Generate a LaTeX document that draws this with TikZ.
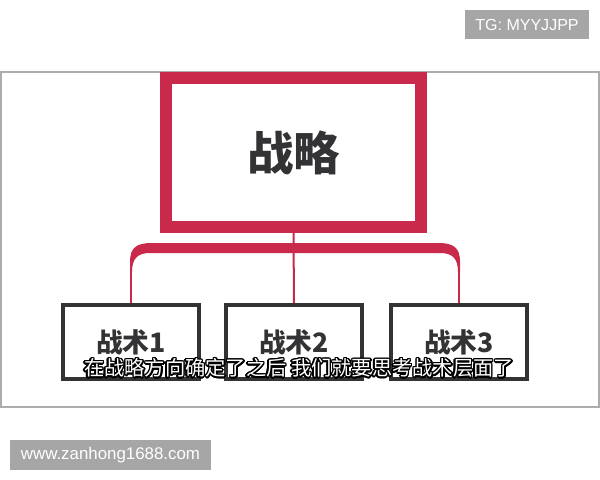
\documentclass[tikz,border=0pt]{standalone}
\usepackage{fontspec}
\setmainfont{Liberation Sans}
\newfontfamily\cjk{Noto Sans CJK SC}
\usetikzlibrary{calc}
\definecolor{stratred}{RGB}{201,42,76}
\definecolor{boxgray}{RGB}{51,51,53}
\definecolor{markgray}{RGB}{166,166,166}
\definecolor{framegray}{RGB}{172,172,172}
\newcommand\subline{在战略方向确定了之后 我们就要思考战术层面了}
\tikzset{
	stratbox/.style={draw=stratred, line width=0.3cm, minimum width=6.375cm, minimum height=3.725cm, inner sep=0pt, text=boxgray, font=\cjk\bfseries\fontsize{33}{36}\selectfont},
	tacbox/.style={draw=boxgray, line width=0.1cm, minimum width=3.4cm, minimum height=1.85cm, inner sep=0pt, text=boxgray, font=\cjk\bfseries\fontsize{19}{22}\selectfont},
	link/.style={draw=stratred, line width=0.05cm},
	subtitle/.style={inner sep=0pt, font=\cjk\fontsize{14.4}{16}\selectfont},
	wmark/.style={fill=markgray, text=white, inner sep=0pt}
}

\begin{document}
\begin{tikzpicture}[x=0.025cm, y=-0.025cm]
		%%%%% START %%%%%
		
		\useasboundingbox[fill=white] (0, 0) rectangle (600, 480);
		\draw[framegray, line width=0.03cm] (1, 72) rectangle (599, 407);
		
		\node[stratbox] (strat) at (293.5, 152.5) {战略};
		
		\node[tacbox] (t1) at (131, 342) {战术1};
		\node[tacbox] (t2) at (294, 342) {战术2};
		\node[tacbox] (t3) at (459, 342) {战术3};
		
		\draw[link] (strat.south) -- (t2.north);
		
		\coordinate (bl) at (131, 268);
		\coordinate (br) at (459, 268);
		\draw[link] (bl) -- (t1.north);
		\draw[link] (br) -- (t3.north);
		\fill[stratred] (130, 272) -- (130, 262) .. controls (130, 248) and (136, 243) .. (152, 243)
			-- (438, 243) .. controls (454, 243) and (460, 248) .. (460, 262) -- (460, 272)
			-- (458, 272) .. controls (458, 258) and (452, 253) .. (440, 253)
			-- (150, 253) .. controls (138, 253) and (132, 258) .. (132, 272) -- cycle;
		
		% subtitle: black outline under white text
		\foreach \a [count=\k] in {0,22.5,...,337.5}
			\node[subtitle, text=black, shift={(\a:1.5)}] (sh\k) at (299, 368) {\subline};
		\node[subtitle, text=white] (sub) at (299, 368) {\subline};
		
		\node[wmark, minimum width=3.1cm, minimum height=0.725cm, font=\fontsize{11.4}{13}\selectfont] (tg) at (527, 24.5) {TG: MYYJJPP};
		\node[wmark, minimum width=5.025cm, minimum height=0.75cm, font=\fontsize{12}{14}\selectfont] (web) at (110.5, 455) {www.zanhong1688.com};
		
		%%%%% END %%%%%
	\end{tikzpicture}
\end{document}
